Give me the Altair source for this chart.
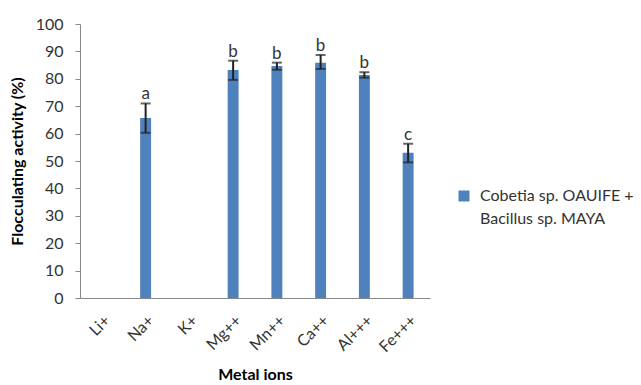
import altair as alt
import pandas as pd

ions = ["Li+", "Na+", "K+", "Mg++", "Mn++", "Ca++", "Al+++", "Fe+++"]
activity = [0, 65.7, 0, 83.2, 84.7, 85.9, 81.4, 53.0]
err_low = [None, 60.3, None, 79.6, 83.3, 83.6, 80.4, 49.5]
err_high = [None, 71.0, None, 86.6, 85.9, 88.7, 82.4, 56.3]
letters = ["", "a", "", "b", "b", "b", "b", "c"]
series = "Cobetia sp. OAUIFE + Bacillus sp. MAYA"

df = pd.DataFrame({
    "ion": ions,
    "activity": activity,
    "lo": err_low,
    "hi": err_high,
    "letter": letters,
    "series": series,
})

FONT = "Lato"
x_axis = alt.Axis(labelAngle=-45, ticks=False, labelPadding=14,
                  domainColor="#888888", labelFontSize=16,
                  titleFontSize=16, titleFontWeight="bold",
                  titlePadding=12, labelColor="#333333")
x_scale = alt.Scale(paddingInner=0.75, paddingOuter=0.375)
y_axis = alt.Axis(values=list(range(0, 101, 10)), grid=False,
                  labelOverlap=False, labelPadding=12,
                  domainColor="#888888", tickColor="#888888",
                  tickSize=5, labelFontSize=16, labelColor="#333333",
                  titleFontSize=16, titleFontWeight="bold",
                  titlePadding=10)
y_scale = alt.Scale(domain=[0, 100])
X_TITLE = "Metal ions"
Y_TITLE = "Flocculating activity (%)"


def xenc():
    return alt.X("ion:N", sort=ions, title=X_TITLE, scale=x_scale, axis=x_axis)


def yenc(field):
    return alt.Y(field, title=Y_TITLE, scale=y_scale, axis=y_axis)


bars = alt.Chart(df).mark_bar(color="#4F81BD").encode(
    x=xenc(),
    y=yenc("activity:Q"),
    color=alt.Color("series:N",
                    scale=alt.Scale(range=["#4F81BD"]),
                    legend=alt.Legend(title=None, orient="none",
                                      legendX=376, legendY=164,
                                      symbolType="square", symbolSize=121,
                                      labelFontSize=16, labelColor="#333333",
                                      labelLimit=300, labelOffset=8,
                                      labelExpr="[slice(datum.label,0,20), slice(datum.label,21)]")),
)

with_err = alt.Chart(df).transform_filter("datum.hi != null")

rules = with_err.mark_rule(color="#222222", strokeWidth=2).encode(
    x=xenc(), y=yenc("lo:Q"), y2="hi:Q")
cap_hi = with_err.mark_tick(color="#222222", thickness=2, size=10).encode(
    x=xenc(), y=yenc("hi:Q"))
cap_lo = with_err.mark_tick(color="#222222", thickness=2, size=10).encode(
    x=xenc(), y=yenc("lo:Q"))
labels = with_err.mark_text(baseline="bottom", dy=0, fontSize=17,
                            color="#333333", font=FONT).encode(
    x=xenc(), y=yenc("hi:Q"), text="letter:N")

chart = alt.layer(bars, rules, cap_hi, cap_lo, labels).properties(
    width=350, height=274,
    autosize=alt.AutoSizeParams(type="none"),
    padding={"left": 80, "top": 24, "right": 211, "bottom": 87},
).configure(
    font=FONT, style={"guide-label": {"lineHeight": 23}}
).configure_view(stroke=None)

chart.save("out.html", embed_options={"renderer": "svg", "actions": False})
